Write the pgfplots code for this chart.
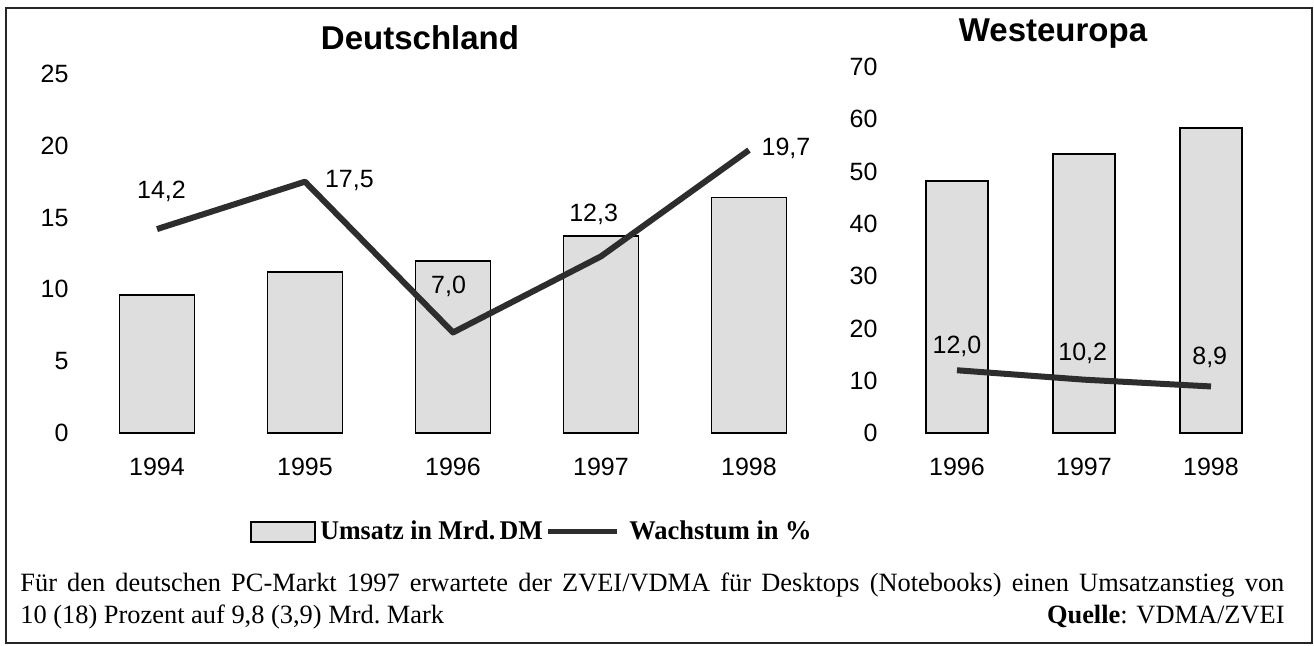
\documentclass[border=0pt]{standalone}
\usepackage{fontspec}
\setmainfont{Liberation Serif}
\newfontfamily\arial{Liberation Sans}
\usepackage{graphicx}
\usepackage{pgfplots}
\pgfplotsset{compat=1.18}

\definecolor{barfill}{RGB}{222,222,222}
\definecolor{linec}{RGB}{45,45,45}

\pgfplotsset{
 mystyle/.style={
   scale only axis, anchor=south west,
   axis line style={draw=none}, major tick length=0pt,
   ymin=0,
   ticklabel style={font=\arial\fontsize{12.5}{14}\selectfont},
   /pgf/number format/assume math mode=true,
   xticklabel style={yshift=-9pt},
   clip=false,
 },
}
\tikzset{lab/.style={font=\arial\fontsize{12.5}{14}\selectfont, inner sep=0pt}}

\begin{document}
\begin{tikzpicture}
\useasboundingbox (0,0) rectangle (657pt,323pt);
\draw[line width=1pt, black!85] (3pt,1.5pt) rectangle (656pt,319pt);

\begin{axis}[mystyle, at={(37.8pt,106.5pt)}, width=370pt, height=179.5pt,
  xmin=-0.55, xmax=4.45, ymax=25, ytick={0,5,...,25},
  xtick={0,1,2,3,4}, xticklabels={1994,1995,1996,1997,1998}]
\addplot[ybar, bar width=37.5pt, fill=barfill, draw=black, line width=0.9pt]
  coordinates {(0,9.6) (1,11.2) (2,12.0) (3,13.7) (4,16.4)};
\addplot[linec, line width=3pt, line join=round]
  coordinates {(0,14.2) (1,17.5) (2,7.0) (3,12.3) (4,19.7)};
\node[lab] at (axis cs:0.03,16.8) {14,2};
\node[lab] at (axis cs:1.30,17.6) {17,5};
\node[lab] at (axis cs:1.97,10.2) {7,0};
\node[lab] at (axis cs:2.95,15.2) {12,3};
\node[lab] at (axis cs:4.25,19.85) {19,7};
\end{axis}

\begin{axis}[mystyle, at={(442.3pt,106.5pt)}, width=201.3pt, height=183pt,
  xmin=-0.57, xmax=2.6, ymax=70, ytick={0,10,...,70},
  xtick={0,1,2}, xticklabels={1996,1997,1998}]
\addplot[ybar, bar width=31pt, fill=barfill, draw=black, line width=0.9pt]
  coordinates {(0,48.2) (1,53.3) (2,58.3)};
\addplot[linec, line width=3pt, line join=round]
  coordinates {(0,12.0) (1,10.2) (2,8.9)};
\node[lab] at (axis cs:0,16.5) {12,0};
\node[lab] at (axis cs:0.99,15.3) {10,2};
\node[lab] at (axis cs:1.99,14.5) {8,9};
\end{axis}

\node[font=\arial\bfseries\fontsize{16.5}{18}\selectfont] at (210pt,304pt) {Deutschland};
\node[font=\arial\bfseries\fontsize{16.5}{18}\selectfont] at (526.5pt,306pt) {Westeuropa};

% legend
\draw[fill=barfill, draw=black, line width=0.9pt] (125.5pt,52pt) rectangle (157.5pt,62pt);
\node[anchor=base west, inner sep=0pt, font=\bfseries\fontsize{13.5}{15}\selectfont] at (160pt,53pt) {\scalebox{0.96}[1]{Umsatz in Mrd.\,DM}};
\draw[linec, line width=2.5pt] (274pt,57pt) -- (308.5pt,57pt);
\node[anchor=base west, inner sep=0pt, font=\bfseries\fontsize{13.5}{15}\selectfont] at (314.5pt,53pt) {\scalebox{0.98}[1]{Wachstum in \%}};

% caption
\node[anchor=base west, inner sep=0pt, font=\fontsize{13.2}{15}\selectfont] at (10pt,27pt)
  {\makebox[632pt][s]{Für den deutschen PC-Markt 1997 erwartete der ZVEI/VDMA für Desktops (Notebooks) einen Umsatzanstieg von}};
\node[anchor=base west, inner sep=0pt, font=\fontsize{13.2}{15}\selectfont] at (10pt,11pt)
  {10 (18) Prozent auf 9,8 (3,9) Mrd.\ Mark};
\node[anchor=base east, inner sep=0pt, font=\fontsize{13.2}{15}\selectfont] at (642.5pt,11pt)
  {\textbf{Quelle}: VDMA/ZVEI};
\end{tikzpicture}
\end{document}
